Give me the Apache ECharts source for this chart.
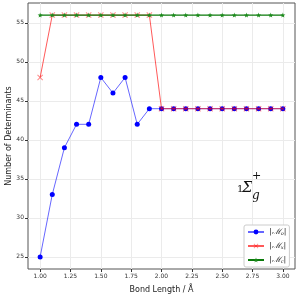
<!DOCTYPE html>
<html><head><meta charset="utf-8">
<script src="https://cdn.jsdelivr.net/npm/echarts@6/dist/echarts.min.js"></script>
<style>html,body{margin:0;padding:0;background:#fff}#c{width:299px;height:299px}</style>
</head><body><div id="c"></div>
<script>
var bondLengths = [1.0,1.1,1.2,1.3,1.4,1.5,1.6,1.7,1.8,1.9,2.0,2.1,2.2,2.3,2.4,2.5,2.6,2.7,2.8,2.9,3.0];
var detsB = [25,33,39,42,42,48,46,48,42,44,44,44,44,44,44,44,44,44,44,44,44];
var detsX = [48,56,56,56,56,56,56,56,56,56,44,44,44,44,44,44,44,44,44,44,44];
var detsC = [56,56,56,56,56,56,56,56,56,56,56,56,56,56,56,56,56,56,56,56,56];
var xTicks = [1.0,1.25,1.5,1.75,2.0,2.25,2.5,2.75,3.0];
var yTicks = [25,30,35,40,45,50,55];
var seriesNames = ['B','X','C'];

function pairs(ys){ return bondLengths.map(function(x,i){ return [x, ys[i]]; }); }
var xSym = 'path://M0,1.2L1.2,0L5,3.8L8.8,0L10,1.2L6.2,5L10,8.8L8.8,10L5,6.2L1.2,10L0,8.8L3.8,5Z';
var starSym = 'path://M5,0L6.2,3.5L10,3.6L7,5.9L8.1,9.5L5,7.4L1.9,9.5L3,5.9L0,3.6L3.8,3.5Z';
var chart = echarts.init(document.getElementById('c'), null, {renderer:'canvas'});
var tickFont = {fontSize:6, color:'#333', fontFamily:'DejaVu Sans'};
chart.setOption({
  animation:false,
  grid:{left:28, right:4, top:3, bottom:30, show:true, borderColor:'#555', borderWidth:1, backgroundColor:'transparent', containLabel:false, outerBoundsMode:'none'},
  xAxis:{type:'value', min:0.9, max:3.1,
    name:'Bond Length / Å', nameLocation:'middle', nameGap:17, nameMoveOverlap:false,
    nameTextStyle:{fontSize:8, color:'#222', fontFamily:'DejaVu Sans'},
    axisLine:{show:false},
    axisTick:{show:true, length:3, lineStyle:{color:'#333'}, customValues:xTicks},
    axisLabel:Object.assign({customValues:xTicks, margin:4, formatter:function(v){return v.toFixed(2);}}, tickFont),
    splitLine:{show:true, lineStyle:{color:'#ebebeb', width:1}}
  },
  yAxis:{type:'value', min:23.45, max:57.55,
    name:'Number of Determinants', nameLocation:'middle', nameGap:15, nameMoveOverlap:false,
    nameTextStyle:{fontSize:8, color:'#222', fontFamily:'DejaVu Sans'},
    axisLine:{show:false},
    axisTick:{show:true, length:3, lineStyle:{color:'#333'}, customValues:yTicks},
    axisLabel:Object.assign({customValues:yTicks, margin:4}, tickFont),
    splitLine:{show:true, lineStyle:{color:'#ebebeb', width:1}}
  },
  legend:{
    orient:'vertical', left:244, top:225, itemWidth:16, itemHeight:6, itemGap:6,
    borderColor:'#ccc', borderWidth:1, borderRadius:2, padding:[3,3,3,3],
    backgroundColor:'#fff',
    data:seriesNames,
    formatter:function(n){ return '{m||ℳ}{s|' + (n==='B'?'o':n==='X'?'x':'c') + '}{m||}'; },
    textStyle:{fontSize:8, color:'#222', rich:{
      m:{fontSize:8, fontFamily:'DejaVu Serif', fontStyle:'italic', color:'#222'},
      s:{fontSize:5, fontFamily:'DejaVu Serif', fontStyle:'italic', color:'#222', verticalAlign:'bottom'}
    }}
  },
  series:[
    {name:'B', type:'line', data:pairs(detsB), symbol:'circle', symbolSize:5,
     lineStyle:{color:'rgba(0,0,255,0.6)', width:1}, itemStyle:{color:'#0000ff'}, z:2},
    {name:'X', type:'line', data:pairs(detsX), symbol:xSym, symbolSize:6,
     lineStyle:{color:'rgba(255,0,0,0.65)', width:1}, itemStyle:{color:'rgba(255,0,0,0.45)'}, z:3},
    {name:'C', type:'line', data:pairs(detsC), symbol:starSym, symbolSize:5,
     lineStyle:{color:'#0a7a0a', width:1.2}, itemStyle:{color:'#1a8a1a'}, z:4}
  ],
  graphic:[
    {type:'text', left:237, top:184, style:{text:'1', fontSize:10, fontFamily:'DejaVu Serif', fill:'#111'}},
    {type:'text', left:242, top:181, style:{text:'Σ', fontSize:15, fontStyle:'italic', fontFamily:'DejaVu Serif', fill:'#111'}},
    {type:'text', left:252, top:171, style:{text:'+', fontSize:11, fontFamily:'DejaVu Serif', fill:'#111'}},
    {type:'text', left:252, top:190, style:{text:'g', fontSize:12, fontStyle:'italic', fontFamily:'DejaVu Serif', fill:'#111'}}
  ]
});
</script></body></html>
